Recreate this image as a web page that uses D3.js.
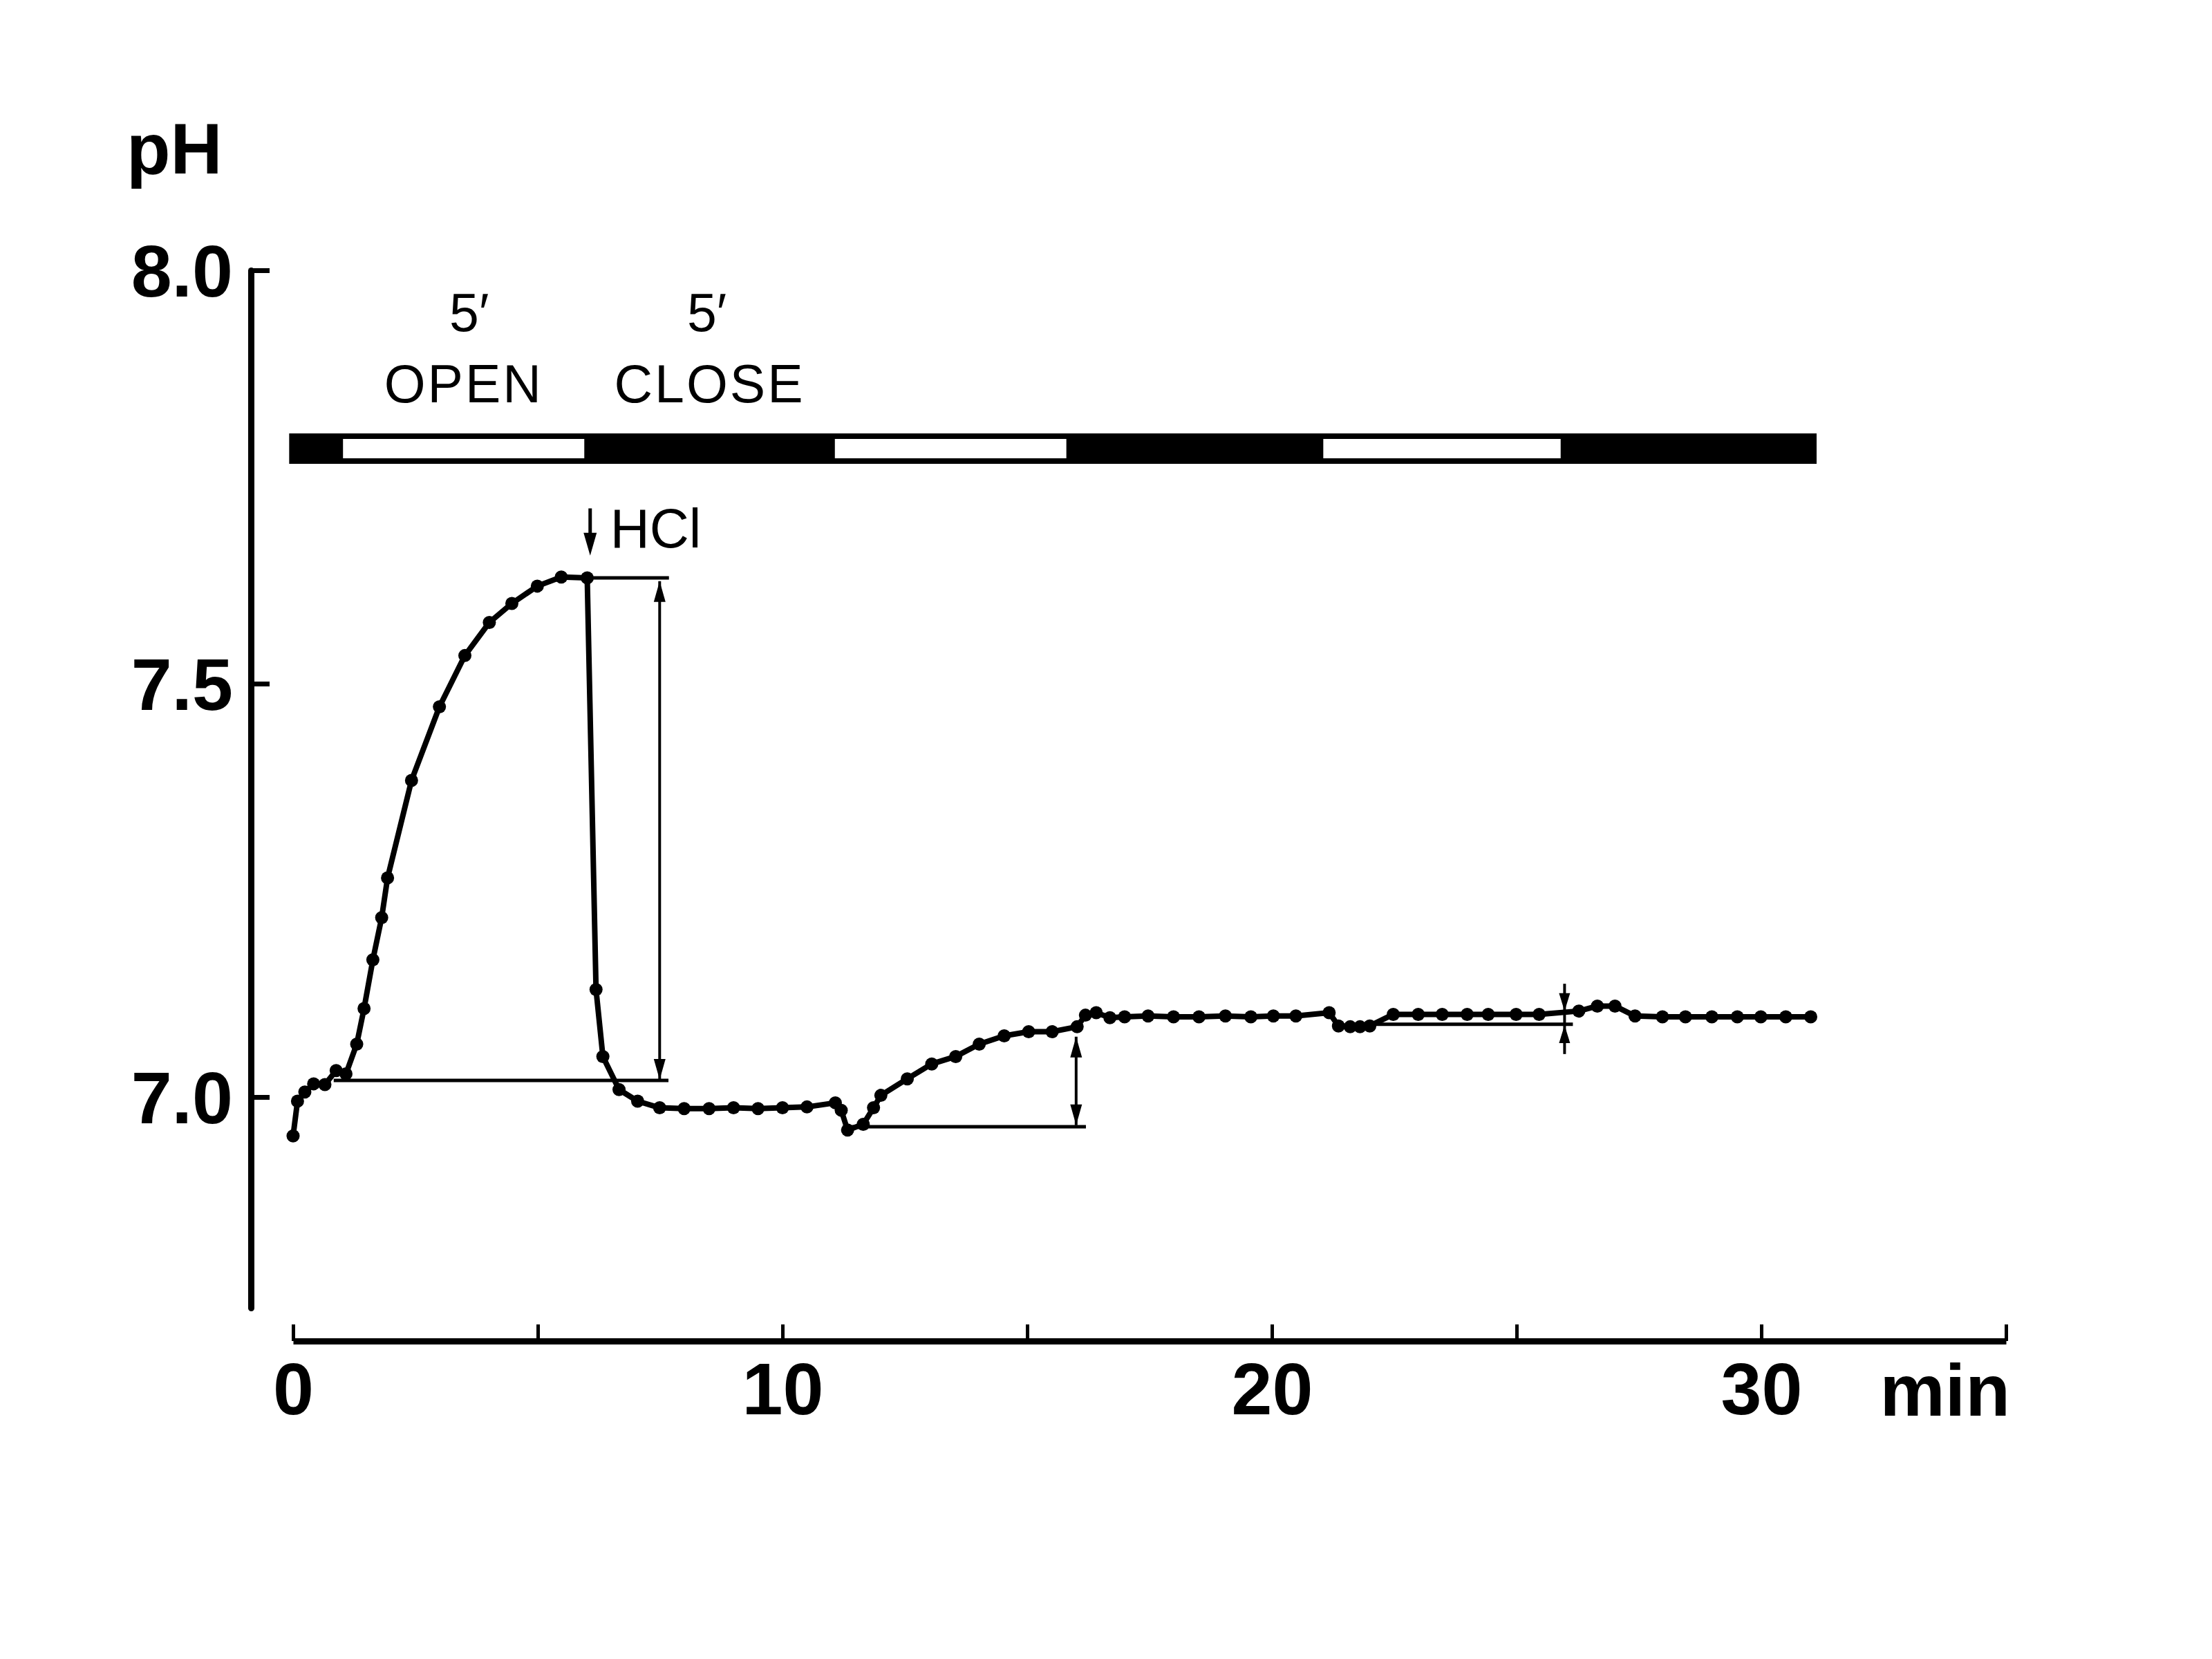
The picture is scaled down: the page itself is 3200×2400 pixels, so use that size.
<!DOCTYPE html>
<html>
<head>
<meta charset="utf-8">
<script src="https://cdn.jsdelivr.net/npm/d3@7"></script>
<style>
  html, body { margin: 0; padding: 0; background: #fff; }
  svg { display: block; }
</style>
</head>
<body>
<svg id="chart" width="3200" height="2400"></svg>
<script>
// pH trace (time in min)
const timeMin = [0.00, 0.09, 0.24, 0.42, 0.65, 0.88, 1.08, 1.30, 1.45, 1.63, 1.81, 1.93, 2.42, 2.99, 3.51, 4.01, 4.47, 4.99, 5.48, 6.01,
  6.19, 6.33, 6.66, 7.04, 7.49, 7.99, 8.50, 9.00, 9.50, 10.00, 10.50, 11.08, 11.20, 11.33, 11.65, 11.86, 12.01, 12.55, 13.05, 13.54,
  14.02, 14.53, 15.03, 15.51, 16.02, 16.19, 16.41, 16.69, 16.99, 17.47, 17.99, 18.51, 19.05, 19.57, 20.03, 20.49, 21.17, 21.36, 21.60, 21.80,
  22.00, 22.48, 22.99, 23.48, 23.99, 24.42, 24.99, 25.46, 26.27, 26.65, 27.01, 27.42, 27.98, 28.45, 28.99, 29.51, 29.99, 30.50, 31.01];
const phValues = [6.953, 6.995, 7.006, 7.016, 7.015, 7.032, 7.028, 7.064, 7.107, 7.166, 7.217, 7.265, 7.383, 7.472, 7.534, 7.574, 7.597, 7.618, 7.629, 7.628,
  7.130, 7.049, 7.009, 6.995, 6.987, 6.986, 6.986, 6.987, 6.986, 6.987, 6.988, 6.993, 6.984, 6.960, 6.967, 6.987, 7.002, 7.022, 7.040, 7.049,
  7.064, 7.074, 7.079, 7.079, 7.085, 7.099, 7.102, 7.096, 7.097, 7.098, 7.097, 7.097, 7.098, 7.097, 7.098, 7.098, 7.102, 7.086, 7.085, 7.085,
  7.086, 7.100, 7.100, 7.100, 7.100, 7.100, 7.100, 7.100, 7.104, 7.110, 7.110, 7.098, 7.097, 7.097, 7.097, 7.097, 7.097, 7.097, 7.097];

// valve bar: whole run and the open periods (min)
const barSpan = [-0.08, 31.13];
const openPeriods = [[1.02, 5.95], [11.07, 15.8], [21.05, 25.9]];

const yTicks = [7.0, 7.5, 8.0];
const xTicks = [0, 5, 10, 15, 20, 25, 30, 35];
const xLabels = [0, 10, 20, 30];

// measuring lines [t0, t1, pH]
const guideLines = [[6.0, 7.68, 7.628], [0.83, 7.67, 7.020], [11.35, 16.2, 6.964], [22.1, 26.15, 7.088]];
// double arrows pointing out [t, low pH, high pH]
const spanArrows = [[7.49, 7.021, 7.624], [16.0, 6.966, 7.073]];
// small arrows pointing in [t, low tip, high tip, low tail, high tail]
const pinchArrow = [25.98, 7.087, 7.104, 7.052, 7.137];
// HCl addition [t, tail pH, tip pH]
const hclArrow = [6.07, 7.712, 7.655];

const svg = d3.select("#chart");
svg.append("rect").attr("width", 3200).attr("height", 2400).attr("fill", "#fff");

const font = "'Liberation Sans', Arial, Helvetica, sans-serif";
const x = d3.scaleLinear().domain([0, 35]).range([424, 2902]);
const y = d3.scaleLinear().domain([6.745, 8.0]).range([1892, 391]);

// y axis
const gy = svg.append("g").attr("transform", "translate(363,0)")
  .call(d3.axisLeft(y).tickValues(yTicks).tickFormat(d3.format(".1f"))
    .tickSize(-27).tickSizeOuter(0).tickPadding(26));
gy.select(".domain").attr("stroke-width", 9).attr("stroke-linecap", "round");
gy.selectAll(".tick line").attr("stroke-width", 7);
gy.selectAll(".tick text").attr("font-size", 106).attr("font-family", font)
  .attr("font-weight", "bold").attr("dy", "0.35em");

// x axis
const gx = svg.append("g").attr("transform", "translate(0,1940)")
  .call(d3.axisBottom(x).tickValues(xTicks).tickFormat(d => xLabels.includes(d) ? d : "")
    .tickSize(-24).tickSizeOuter(0).tickPadding(31));
gx.select(".domain").attr("stroke-width", 9);
gx.selectAll(".tick line").attr("stroke-width", 5);
gx.selectAll(".tick text").attr("font-size", 106).attr("font-family", font).attr("font-weight", "bold");

svg.append("text").text("pH").attr("x", 183).attr("y", 251)
  .attr("font-size", 104).attr("font-family", font).attr("font-weight", "bold");
svg.append("text").text("min").attr("x", x(35) + 6).attr("y", 2048).attr("text-anchor", "end")
  .attr("font-size", 106).attr("font-family", font).attr("font-weight", "bold");

// valve bar
const barTop = 627, barH = 44, inset = 8;
svg.append("rect").attr("x", x(barSpan[0])).attr("y", barTop)
  .attr("width", x(barSpan[1]) - x(barSpan[0])).attr("height", barH).attr("fill", "#000");
svg.selectAll("rect.open").data(openPeriods).join("rect").attr("class", "open")
  .attr("x", d => x(d[0])).attr("y", barTop + inset)
  .attr("width", d => x(d[1]) - x(d[0])).attr("height", barH - 2 * inset).attr("fill", "#fff");

const firstOpen = (openPeriods[0][0] + openPeriods[0][1]) / 2;
const firstClose = (openPeriods[0][1] + openPeriods[1][0]) / 2;
[[firstOpen, "OPEN", 8], [firstClose, "CLOSE", -4]].forEach(([t, word, shift]) => {
  svg.append("text").text("5\u2032").attr("x", x(t) + shift).attr("y", 479).attr("text-anchor", "middle")
    .attr("font-size", 77).attr("font-family", font);
  svg.append("text").text(word).attr("x", x(t)).attr("y", 582).attr("text-anchor", "middle")
    .attr("font-size", 77).attr("font-family", font).attr("letter-spacing", 3);
});

// arrowhead: tip at (cx, tipY), up = points upward
function head(cx, tipY, up, len, half) {
  const b = up ? tipY + len : tipY - len;
  svg.append("path").attr("d", `M${cx},${tipY}L${cx - half},${b}L${cx + half},${b}Z`).attr("fill", "#000");
}

// measuring lines
svg.selectAll("line.guide").data(guideLines).join("line").attr("class", "guide")
  .attr("x1", d => x(d[0])).attr("x2", d => x(d[1]))
  .attr("y1", d => y(d[2])).attr("y2", d => y(d[2]))
  .attr("stroke", "#000").attr("stroke-width", 5);

spanArrows.forEach(([t, lo, hi]) => {
  svg.append("line").attr("x1", x(t)).attr("x2", x(t)).attr("y1", y(lo)).attr("y2", y(hi))
    .attr("stroke", "#000").attr("stroke-width", 4);
  head(x(t), y(hi), true, 30, 8.5);
  head(x(t), y(lo), false, 30, 8.5);
});

{
  const [t, loTip, hiTip, loTail, hiTail] = pinchArrow;
  svg.append("line").attr("x1", x(t)).attr("x2", x(t)).attr("y1", y(hiTail)).attr("y2", y(loTail))
    .attr("stroke", "#000").attr("stroke-width", 4);
  head(x(t), y(hiTip), false, 26, 8);
  head(x(t), y(loTip), true, 26, 8);
}

// data trace
const pts = timeMin.map((t, i) => [t, phValues[i]]);
svg.append("path").datum(pts).attr("fill", "none").attr("stroke", "#000")
  .attr("stroke-width", 8).attr("stroke-linejoin", "round")
  .attr("d", d3.line().x(d => x(d[0])).y(d => y(d[1])));
svg.selectAll("circle.pt").data(pts).join("circle").attr("class", "pt")
  .attr("cx", d => x(d[0])).attr("cy", d => y(d[1])).attr("r", 9.5).attr("fill", "#000");

// HCl addition
{
  const [t, from, to] = hclArrow;
  svg.append("line").attr("x1", x(t)).attr("x2", x(t)).attr("y1", y(from)).attr("y2", y(to) - 20)
    .attr("stroke", "#000").attr("stroke-width", 5);
  head(x(t), y(to), false, 33, 9.5);
  svg.append("text").text("HCl").attr("x", x(t) + 29).attr("y", y(to) - 12)
    .attr("font-size", 79).attr("font-family", font);
}
</script>
</body>
</html>
